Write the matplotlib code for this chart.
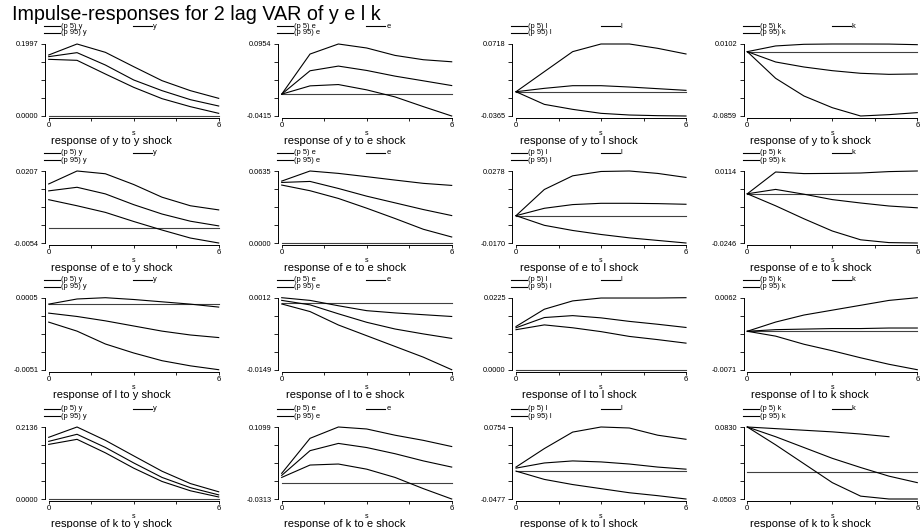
import matplotlib
matplotlib.use('Agg')
import matplotlib.pyplot as plt
from matplotlib.lines import Line2D
import numpy as np

plt.rcParams['font.family'] = ['Liberation Sans', 'DejaVu Sans']

steps = [0, 1, 2, 3, 4, 5, 6]
names = ['y', 'e', 'l', 'k']
title = 'Impulse-responses for 2 lag VAR of y e l k'

# response of y to (y, e, l, k) shocks
irf_y = [[0.1646, 0.1757, 0.1414, 0.0999, 0.0703, 0.0453, 0.0277],
         [0.0, 0.0445, 0.0534, 0.0451, 0.0343, 0.0254, 0.0164],
         [0.0, 0.0051, 0.0091, 0.0091, 0.0071, 0.0046, 0.0021],
         [0.0, -0.0138, -0.0205, -0.0254, -0.0289, -0.0303, -0.0298]]
lo_y = [[0.1572, 0.1544, 0.1165, 0.0795, 0.0481, 0.0259, 0.0074],
        [0.0, 0.0158, 0.0183, 0.0082, -0.0052, -0.0237, -0.0415],
        [0.0, -0.0190, -0.0265, -0.0325, -0.0350, -0.0360, -0.0365],
        [0.0, -0.0356, -0.0592, -0.0748, -0.0859, -0.0841, -0.0814]]
hi_y = [[0.1692, 0.1997, 0.1766, 0.1368, 0.0980, 0.0703, 0.0490],
        [0.0, 0.0763, 0.0954, 0.0878, 0.0737, 0.0655, 0.0616],
        [0.0, 0.0302, 0.0603, 0.0718, 0.0718, 0.0653, 0.0568],
        [0.0, 0.0076, 0.0098, 0.0102, 0.0102, 0.0101, 0.0093]]

# response of e
irf_e = [[0.0135, 0.0148, 0.0124, 0.0085, 0.0051, 0.0025, 0.0008],
         [0.0534, 0.0543, 0.0481, 0.0413, 0.0354, 0.0295, 0.0242],
         [0.0, 0.0046, 0.0069, 0.0077, 0.0077, 0.0075, 0.0071],
         [0.0, 0.0022, -0.0002, -0.0029, -0.0046, -0.0061, -0.0070]]
lo_e = [[0.0103, 0.0081, 0.0057, 0.0024, -0.0007, -0.0036, -0.0054],
        [0.0511, 0.0461, 0.0393, 0.0307, 0.0216, 0.0121, 0.0053],
        [0.0, -0.0060, -0.0092, -0.0117, -0.0138, -0.0154, -0.0170],
        [0.0, -0.0060, -0.0125, -0.0186, -0.0230, -0.0244, -0.0246]]
hi_e = [[0.0160, 0.0207, 0.0197, 0.0158, 0.0112, 0.0081, 0.0066],
        [0.0546, 0.0635, 0.0614, 0.0585, 0.0555, 0.0526, 0.0508],
        [0.0, 0.0163, 0.0248, 0.0275, 0.0278, 0.0263, 0.0238],
        [0.0, 0.0109, 0.0101, 0.0102, 0.0104, 0.0111, 0.0114]]

# response of l
irf_l = [[-0.0007, -0.00096, -0.0013, -0.0017, -0.0021, -0.0024, -0.0026],
         [0.0006, -0.0004, -0.0024, -0.0043, -0.0058, -0.0069, -0.0079],
         [0.0131, 0.0163, 0.0169, 0.0162, 0.0151, 0.0142, 0.0132],
         [0.0, 0.0003, 0.0004, 0.0005, 0.0005, 0.0006, 0.0006]]
lo_l = [[-0.0014, -0.0021, -0.0031, -0.0038, -0.0044, -0.0048, -0.0051],
        [-0.0002, -0.0019, -0.0049, -0.0073, -0.0097, -0.0121, -0.0149],
        [0.0125, 0.0140, 0.0131, 0.0119, 0.0104, 0.0094, 0.0083],
        [0.0, -0.0009, -0.0024, -0.0036, -0.0049, -0.0061, -0.0071]]
hi_l = [[0.0000, 0.0004, 0.0005, 0.00036, 0.00018, 0.0, -0.00023],
        [0.0012, 0.0006, -0.0006, -0.0017, -0.0022, -0.0026, -0.0030],
        [0.0135, 0.0189, 0.0215, 0.0224, 0.0224, 0.0224, 0.0225],
        [0.0, 0.0017, 0.0030, 0.0039, 0.0048, 0.0057, 0.0062]]

# response of k
irf_k = [[0.171, 0.192, 0.153, 0.107, 0.064, 0.0336, 0.0122],
         [0.015, 0.0635, 0.0777, 0.0696, 0.0575, 0.0434, 0.0313],
         [0.0051, 0.0139, 0.0174, 0.0157, 0.0121, 0.0069, 0.0033],
         [0.083, 0.065, 0.045, 0.025, 0.008, -0.008, -0.020]]
lo_k = [[0.162, 0.177, 0.137, 0.0915, 0.052, 0.0244, 0.006],
        [0.011, 0.0353, 0.0373, 0.0272, 0.011, -0.011, -0.0313],
        [0.0, -0.0142, -0.023, -0.030, -0.037, -0.042, -0.0477],
        [0.083, 0.05, 0.015, -0.02, -0.045, -0.0503, -0.0503]]
hi_k = [[0.183, 0.2136, 0.174, 0.128, 0.0824, 0.0458, 0.0214],
        [0.019, 0.0877, 0.1099, 0.106, 0.0938, 0.0837, 0.0716],
        [0.0069, 0.0385, 0.0667, 0.0754, 0.0737, 0.0614, 0.0544],
        [0.083, 0.080, 0.077, 0.074, 0.070, 0.065, np.nan]]

irfs = [irf_y, irf_e, irf_l, irf_k]
lows = [lo_y, lo_e, lo_l, lo_k]
highs = [hi_y, hi_e, hi_l, hi_k]

W, H = 923, 528
fig = plt.figure(figsize=(W / 100, H / 100), dpi=100)

col_left = [48.7, 281.7, 516.0, 747.3]
row_top = [44.0, 171.0, 297.7, 427.0]
pw, ph = 170.0, 72.0
lw = 0.8


def fx(x):
    return x / W


def fy(y):
    return 1 - y / H


def legend_entry(x, y, length, label):
    # one legend key drawn at pixel position (x, y), y measured from the top
    fig.add_artist(Line2D([fx(x), fx(x + length)], [fy(y), fy(y)],
                          transform=fig.transFigure, color='k', lw=lw))
    fig.text(fx(x + length + 1.2), fy(y), label, fontsize=5.4,
             ha='left', va='center')


fig.text(fx(12), fy(19.5), title, fontsize=14.2, ha='left', va='baseline')

for i, resp in enumerate(names):
    for j, imp in enumerate(names):
        lo, mid, hi = lows[i][j], irfs[i][j], highs[i][j]
        x0, top = col_left[j], row_top[i]
        ax = fig.add_axes([fx(x0), fy(top + ph), pw / W, ph / H])
        ax.axhline(0, color='0.25', lw=lw, clip_on=False)
        ax.plot(steps, lo, color='k', lw=lw, clip_on=False)
        ax.plot(steps, hi, color='k', lw=lw, clip_on=False)
        ax.plot(steps, mid, color='k', lw=lw, clip_on=False)

        vals = np.array(lo + mid + hi + [0.0], dtype=float)
        ymin, ymax = np.nanmin(vals), np.nanmax(vals)
        ax.set_xlim(0, 6)
        ax.set_ylim(ymin, ymax)
        ax.set_yticks(np.linspace(ymin, ymax, 5))
        ax.set_yticklabels(['%.4f' % ymin, '', '', '', '%.4f' % ymax])
        ax.set_xticks([0, 1.5, 3, 4.5, 6])
        ax.set_xticklabels(['0', '', '', '', '6'])
        ax.tick_params(axis='y', length=2.8, width=0.6, labelsize=5.3, pad=1.8)
        ax.tick_params(axis='x', length=2.4, width=0.6, labelsize=5.6, pad=0.5)
        for s in ['top', 'right']:
            ax.spines[s].set_visible(False)
        ax.spines['left'].set_position(('outward', 2.7))
        ax.spines['bottom'].set_position(('outward', 1.7))
        ax.spines['left'].set_linewidth(0.7)
        ax.spines['bottom'].set_linewidth(0.7)
        ax.set_xlabel('s', fontsize=5, labelpad=0.3)

        legend_entry(x0 - 4.7, top - 18, 16, '(p 5) %s' % imp)
        legend_entry(x0 - 4.7, top - 11, 16, '(p 95) %s' % imp)
        legend_entry(x0 + 84.5, top - 18, 19, imp)

        cx = x0 + pw / 2 - 22
        cy = top + ph + 25
        fig.text(fx(cx), fy(cy), 'response of %s to %s shock' % (resp, imp),
                 fontsize=8, ha='center', va='center')

fig.savefig('out.png', dpi=100)
